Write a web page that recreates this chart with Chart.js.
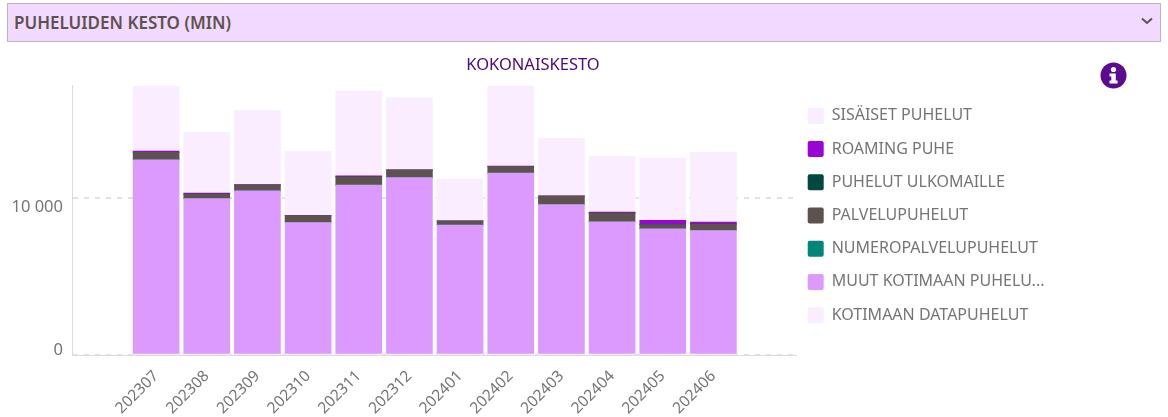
<!DOCTYPE html>
<html lang="fi">
<head>
<meta charset="utf-8">
<title>Puheluiden kesto</title>
<script src="https://cdn.jsdelivr.net/npm/chart.js@4"></script>
<style>
    html, body { margin: 0; padding: 0; background: #fff; overflow: hidden; }
    #wrap { position: relative; width: 1168px; height: 417px; }
    #chart { position: absolute; left: 0; top: 0; }
    #dropdown {
        position: absolute; left: 7px; top: 3px; width: 1152px; height: 37px;
        background: #f2d9ff; border: 1px solid #bdb6c0;
        font: 600 17px "Noto Sans", sans-serif; color: #5d524e; line-height: 37px;
        text-indent: 6px;
    }
    #chevron { position: absolute; left: 1141px; top: 17px; }
    #info { position: absolute; left: 1100px; top: 62px; }
</style>
</head>
<body>
<div id="wrap">
    <canvas id="chart" width="1066" height="417"></canvas>
    <div id="dropdown">PUHELUIDEN KESTO (MIN)</div>
    <svg id="chevron" width="12" height="8" viewBox="0 0 12 8"><path d="M1 1.5 L6 6 L11 1.5" fill="none" stroke="#555" stroke-width="2"/></svg>
    <svg id="info" width="27" height="27" viewBox="0 0 27 27">
        <circle cx="13.5" cy="13.5" r="13" fill="#5c0a8f"/>
        <circle cx="13.5" cy="7.5" r="2.6" fill="#fff"/>
        <path d="M9.5 11.5 H15.8 V18.5 H17.6 V21.5 H9.5 V18.5 H11.3 V14.5 H9.5 Z" fill="#fff"/>
    </svg>
</div>
<script>
const months = ['202307', '202308', '202309', '202310', '202311', '202312', '202401', '202402', '202403', '202404', '202405', '202406'];
const yTicks = [0, 10000];
const yTickText = ['0', '10 000'];

// stack order bottom to top
const kotimaanData = [15, 15, 15, 15, 15, 15, 15, 15, 15, 15, 15, 15];
const muutKotimaan = [12417, 9952, 10443, 8424, 10806, 11290, 8258, 11570, 9560, 8468, 8022, 7914];
const numeropalvelu = [2, 2, 2, 2, 2, 2, 2, 2, 30, 2, 2, 2];
const palvelu = [465, 280, 363, 427, 529, 471, 255, 420, 510, 554, 274, 408];
const ulkomaille = [4, 4, 4, 4, 4, 4, 4, 4, 4, 4, 4, 4];
const roaming = [90, 64, 25, 15, 64, 20, 20, 20, 20, 64, 255, 127];
const sisaiset = [4160, 3860, 4713, 4083, 5414, 4586, 2650, 5159, 3669, 3541, 3975, 4433];

const light = '#f9edff';
const fontName = '"Noto Sans", sans-serif';
const textGrey = '#757575';

function makeSet(label, data, color) {
    return { label: label, data: data, backgroundColor: color, borderWidth: 0, barThickness: 46 };
}

// y axis labels sit off their grid lines in the original,
// the legend starts closer to the plot than chart.js allows
// and the title is not centred over the plot
const tweakPlugin = {
    id: 'tweakPlugin',
    afterLayout(chart) {
        chart.legend.left -= 6;
        chart.legend.right += 20;
        chart.legend.top += 1;
        chart.legend.bottom += 1;
        chart.titleBlock.left -= 22;
        chart.titleBlock.right -= 22;
    },
    afterDraw(chart) {
        const c = chart.ctx;
        const y = chart.scales.y;
        const shift = [-5, 9];
        c.save();
        c.font = '16.5px ' + fontName;
        c.fillStyle = textGrey;
        c.textAlign = 'right';
        c.textBaseline = 'middle';
        yTicks.forEach((v, i) => c.fillText(yTickText[i], 63, y.getPixelForValue(v) + shift[i]));
        c.restore();
    }
};

new Chart(document.getElementById('chart'), {
    type: 'bar',
    plugins: [tweakPlugin],
    data: {
        labels: months.map((m, i) => i),
        datasets: [
            makeSet('KOTIMAAN DATAPUHELUT', kotimaanData, light),
            makeSet('MUUT KOTIMAAN PUHELU...', muutKotimaan, '#dc9aff'),
            makeSet('NUMEROPALVELUPUHELUT', numeropalvelu, '#00867a'),
            makeSet('PALVELUPUHELUT', palvelu, '#5d524e'),
            makeSet('PUHELUT ULKOMAILLE', ulkomaille, '#004840'),
            makeSet('ROAMING PUHE', roaming, '#9a05d6'),
            makeSet('SISÄISET PUHELUT', sisaiset, light)
        ]
    },
    options: {
        responsive: false,
        animation: false,
        layout: { padding: { left: 72, right: 28, top: 12, bottom: 0 } },
        plugins: {
            tooltip: { enabled: false },
            title: {
                display: true,
                text: 'KOKONAISKESTO',
                color: '#4b0a7d',
                font: { family: fontName, size: 16.5, weight: 'normal' },
                padding: { top: 43, bottom: 11 }
            },
            legend: {
                position: 'right',
                reverse: true,
                labels: {
                    color: textGrey,
                    font: { family: fontName, size: 16 },
                    boxWidth: 16,
                    boxHeight: 16,
                    padding: 17.2,
                    useBorderRadius: true,
                    borderRadius: 2
                }
            }
        },
        scales: {
            x: {
                type: 'linear',
                offset: false,
                stacked: true,
                min: -1.66,
                max: 12.64,
                afterBuildTicks(scale) { scale.ticks = months.map((m, i) => ({ value: i })); },
                afterFit(scale) { scale.height = 62; },
                grid: { display: false },
                border: { color: '#dcdcdc', width: 1 },
                ticks: {
                    autoSkip: false,
                    minRotation: 45,
                    maxRotation: 45,
                    color: textGrey,
                    font: { family: fontName, size: 15.5 },
                    padding: 4,
                    callback: v => months[v]
                }
            },
            y: {
                stacked: true,
                min: 0,
                max: 17150,
                afterBuildTicks(scale) { scale.ticks = yTicks.map(v => ({ value: v })); },
                afterFit(scale) { scale.width = 0; },
                grid: { color: '#e2e2e2', lineWidth: 2, drawTicks: false },
                border: { color: '#d5dde3', width: 1, dash: [5, 6] },
                ticks: { display: false }
            }
        }
    }
});
</script>
</body>
</html>
